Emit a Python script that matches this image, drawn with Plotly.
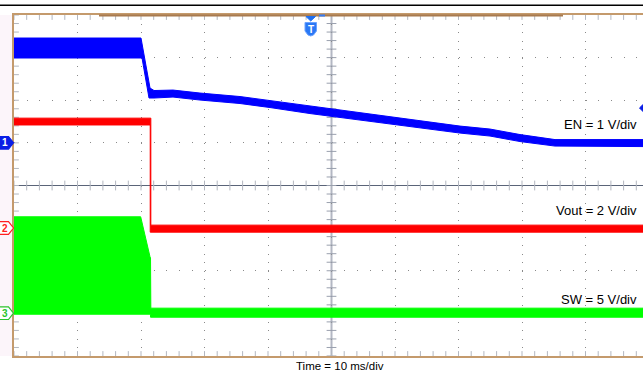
import numpy as np
import plotly.graph_objects as go

W, H = 643, 373

# ---- data (time in ms, 10 ms/div, 0 = left screen edge) ----
# EN (CH1, 1 V/div) upper / lower trace envelope, volts
en_hi_t = [0, 20.0, 21.42, 22.05, 25.04, 29.29, 35.59, 40.31, 46.61, 54.49, 62.36, 70.24, 74.96, 79.69, 85.2, 99.1]
en_hi_v = [2.46, 2.46, 1.286, 1.228, 1.239, 1.169, 1.087, 0.993, 0.852, 0.700, 0.547, 0.394, 0.324, 0.195, 0.077, 0.077]
en_lo_t = [0, 20.16, 21.26, 22.05, 25.04, 29.29, 35.59, 40.31, 46.61, 54.49, 62.36, 70.24, 74.96, 79.69, 85.2, 99.1]
en_lo_v = [1.991, 1.991, 1.052, 1.052, 1.075, 1.005, 0.923, 0.829, 0.688, 0.535, 0.383, 0.230, 0.160, 0.031, -0.075, -0.087]

# Vout (CH2, 2 V/div)
vout_hi_t = [0, 21.55, 21.55, 99.1]
vout_hi_v = [5.16, 5.16, 0.14, 0.14]
vout_lo_t = [0, 21.45, 21.45, 99.1]
vout_lo_v = [4.84, 4.84, -0.19, -0.19]

# SW (CH3, 5 V/div)
sw_hi_t = [0, 19.95, 21.42, 21.5, 21.55, 99.1]
sw_hi_v = [11.33, 11.33, 6.63, 6.5, 0.61, 0.61]
sw_lo_t = [0, 21.5, 21.5, 99.1]
sw_lo_v = [-0.1, -0.1, -0.45, -0.45]

channels = [
    # name, hi_t, hi_v, lo_t, lo_v, ground offset (div), V/div, colour
    ("EN", en_hi_t, en_hi_v, en_lo_t, en_lo_v, 1.0, 1.0, "#0000ff"),
    ("Vout", vout_hi_t, vout_hi_v, vout_lo_t, vout_lo_v, -1.0, 2.0, "#ff0000"),
    ("SW", sw_hi_t, sw_hi_v, sw_lo_t, sw_lo_v, -3.0, 5.0, "#00ff00"),
]
labels = ["EN = 1 V/div", "Vout = 2 V/div", "SW = 5 V/div"]
time_label = "Time = 10 ms/div"

# ---- screen geometry ----
X0, X1 = 14, 643          # plot area pixel extent (screen continues past right edge)
Y0, Y1 = 15, 356
DIVX = 63.5
x_max = (X1 - X0) / DIVX * 10


def P(x, y):
    return x / W, 1 - y / H


fig = go.Figure()

# center-line and border tick marks (graticule decoration)
sub_x = np.arange(0, 100.01, 2)
sub_y = np.arange(-4, 4.01, 0.2)
tick_col = "#b3b7c0"
fig.add_trace(go.Scatter(x=sub_x, y=np.zeros_like(sub_x), mode="markers",
                         marker=dict(symbol="line-ns", size=7, line=dict(width=1, color=tick_col)),
                         hoverinfo="skip", showlegend=False))
fig.add_trace(go.Scatter(x=np.full_like(sub_y, 50.0), y=sub_y, mode="markers",
                         marker=dict(symbol="line-ew", size=7, line=dict(width=1, color="#9aa0ae")),
                         hoverinfo="skip", showlegend=False))
for yy in (-4, 4):
    fig.add_trace(go.Scatter(x=sub_x, y=np.full_like(sub_x, yy), mode="markers",
                             marker=dict(symbol="line-ns", size=7, line=dict(width=1, color=tick_col)),
                             hoverinfo="skip", showlegend=False))
fig.add_trace(go.Scatter(x=np.zeros_like(sub_y), y=sub_y, mode="markers",
                         marker=dict(symbol="line-ew", size=7, line=dict(width=1, color=tick_col)),
                         hoverinfo="skip", showlegend=False))

# waveforms as filled envelopes
for name, ht, hv, lt, lv, off, vdiv, col in channels:
    xs = list(ht) + list(lt)[::-1]
    ys = [off + v / vdiv for v in hv] + [off + v / vdiv for v in lv][::-1]
    fig.add_trace(go.Scatter(x=xs, y=ys, mode="lines", fill="toself", fillcolor=col,
                             line=dict(color=col, width=1), name=name,
                             hoverinfo="skip", showlegend=False))

shapes = []
# pale strip left of the screen
a = P(0, Y0); b = P(X0, Y1)
shapes.append(dict(type="rect", xref="paper", yref="paper", x0=a[0], y0=b[1], x1=b[0], y1=a[1],
                   fillcolor="#fcf5fa", line=dict(width=0), layer="below"))
# top black rule
shapes.append(dict(type="line", xref="paper", yref="paper", x0=0, x1=1, y0=P(0, 5.3)[1], y1=P(0, 5.3)[1],
                   line=dict(color="black", width=1.5)))
# darker top border segment (record bar)
shapes.append(dict(type="line", xref="paper", yref="paper", x0=P(99, 0)[0], x1=P(563, 0)[0],
                   y0=P(0, 15.5)[1], y1=P(0, 15.5)[1], line=dict(color="#a87a4f", width=2)))
# trigger-position blue tick on top border
shapes.append(dict(type="line", xref="paper", yref="paper", x0=P(319, 0)[0], x1=P(325, 0)[0],
                   y0=P(0, 15.5)[1], y1=P(0, 15.5)[1], line=dict(color="#3a7cf0", width=2)))
# vertical center line
shapes.append(dict(type="line", xref="x", yref="y", x0=50, x1=50, y0=-4, y1=4,
                   line=dict(color="#b3b7c3", width=2), layer="below"))


def path(pts, close=True):
    s = "M " + " L ".join(f"{P(x, y)[0]:.5f},{P(x, y)[1]:.5f}" for x, y in pts)
    return s + (" Z" if close else "")


# channel markers on left edge
def chan_marker(yc, fill, edge):
    pts = [(-2, yc - 6.3), (8.5, yc - 6.3), (13.5, yc), (8.5, yc + 6.3), (-2, yc + 6.3)]
    shapes.append(dict(type="path", xref="paper", yref="paper", path=path(pts),
                       fillcolor=fill, line=dict(color=edge, width=1.2)))


chan_marker(142.8, "#0a1ee6", "#0a1ee6")
chan_marker(228.0, "#ffffff", "#ff2020")
chan_marker(313.2, "#ffffff", "#2cc42c")

# trigger marker at top
shapes.append(dict(type="path", xref="paper", yref="paper",
                   path=path([(306, 16.5), (315.5, 16.5), (310.7, 21)]),
                   fillcolor="#1f6ff0", line=dict(color="#1f6ff0", width=1)))
shapes.append(dict(type="path", xref="paper", yref="paper",
                   path=path([(305, 22.5), (316.5, 22.5), (316.5, 31), (313.5, 35), (310.7, 36),
                              (308, 35), (305, 31)]),
                   fillcolor="#2a78f5", line=dict(color="#6aa2ff", width=1)))
# right-edge trigger level diamond
shapes.append(dict(type="path", xref="paper", yref="paper",
                   path=path([(644, 103.5), (648.5, 108), (644, 112.5), (639.5, 108)]),
                   fillcolor="#0a1ee6", line=dict(color="#0a1ee6", width=1)))

annotations = []
for txt, ypx in zip(labels, [124.5, 210.5, 299.5]):
    x, y = P(638.5, ypx)
    annotations.append(dict(text=txt, x=x, y=y, xref="paper", yref="paper", xanchor="right",
                            yanchor="middle", showarrow=False,
                            font=dict(family="Liberation Sans, Arial", size=13, color="black")))
x, y = P(339.5, 366)
annotations.append(dict(text=time_label, x=x, y=y, xref="paper", yref="paper", xanchor="center",
                        yanchor="middle", showarrow=False,
                        font=dict(family="Liberation Sans, Arial", size=11.5, color="black")))
for txt, ypx, col in [("1", 142.8, "white"), ("2", 228.0, "#ff2020"), ("3", 313.2, "#2cc42c")]:
    x, y = P(4.5, ypx)
    annotations.append(dict(text=f"<b>{txt}</b>", x=x, y=y, xref="paper", yref="paper",
                            xanchor="center", yanchor="middle", showarrow=False,
                            font=dict(family="Liberation Sans, Arial", size=10, color=col)))
x, y = P(310.7, 29)
annotations.append(dict(text="<b>T</b>", x=x, y=y, xref="paper", yref="paper",
                        xanchor="center", yanchor="middle", showarrow=False,
                        font=dict(family="Liberation Sans, Arial", size=10, color="white")))

border = "#c49a6c"
fig.update_layout(
    width=W, height=H, margin=dict(l=0, r=0, t=0, b=0),
    paper_bgcolor="white", plot_bgcolor="white", showlegend=False,
    shapes=shapes, annotations=annotations,
    xaxis=dict(domain=[X0 / W, 1], range=[0, x_max], tick0=0, dtick=10, showticklabels=False,
               showgrid=True, gridcolor="#8a8a8a", gridwidth=1, griddash="1px,7.525px",
               zeroline=False, showline=True, linecolor=border, linewidth=1.5, mirror=True,
               ticks="", fixedrange=True),
    yaxis=dict(domain=[1 - Y1 / H, 1 - Y0 / H], range=[-4, 4], tick0=0, dtick=1, showticklabels=False,
               showgrid=True, gridcolor="#8a8a8a", gridwidth=1, griddash="1px,11.7px",
               zeroline=True, zerolinecolor="#5a6478", zerolinewidth=1,
               showline=True, linecolor=border, linewidth=1.5, mirror=False,
               ticks="", fixedrange=True),
)

fig.write_html("out.html", config={"displayModeBar": False},
               post_script="document.body.style.margin='0';document.body.style.overflow='hidden';")
